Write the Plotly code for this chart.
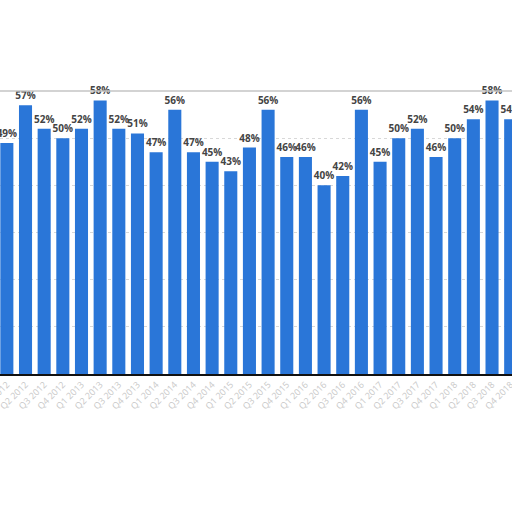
import plotly.graph_objects as go

# quarters Q1 2012 .. Q4 2018
quarters = [f"Q{q} {y}" for y in range(2012, 2019) for q in range(1, 5)]
shares = [49, 57, 52, 50, 52, 58, 52, 51, 47, 56, 47, 45, 43, 48,
          56, 46, 46, 40, 42, 56, 45, 50, 52, 46, 50, 54, 58, 54]
labels = [f"{v}%" for v in shares]

fig = go.Figure()
fig.add_trace(go.Bar(
    x=quarters, y=shares,
    marker=dict(color="#2a76d8", line=dict(width=0)),
    text=labels, textposition="outside", cliponaxis=False,
    texttemplate="<b>%{text}</b>",
    textfont=dict(family="Open Sans", size=10, color="#444444"),
))

fig.update_layout(
    width=512, height=512,
    margin=dict(l=0, r=0, t=91, b=138, autoexpand=False),
    paper_bgcolor="white", plot_bgcolor="white",
    showlegend=False, bargap=0.3,
    font=dict(family="Open Sans"),
    uniformtext=dict(mode="show", minsize=10),
    shapes=[dict(type="line", xref="paper", yref="paper", x0=0, x1=1, y0=1, y1=1,
                 line=dict(color="#c4c4c4", width=1.5))],
)
fig.update_xaxes(
    range=[-0.367, 27.07], tickangle=-45, automargin=False,
    tickfont=dict(size=9, color="#c8c8c8"),
    showline=True, linecolor="#111111", linewidth=1.5,
    showgrid=False, ticks="",
)
fig.update_yaxes(
    range=[0, 60], dtick=10, showticklabels=False, automargin=False,
    showgrid=True, gridcolor="#d8d8d8", griddash="dot", gridwidth=1,
    zeroline=False,
)

# drop the page's default body margin so the chart sits flush in the window
fig.write_html("out.html", config={"displayModeBar": False},
               post_script="document.body.style.margin='0';")
